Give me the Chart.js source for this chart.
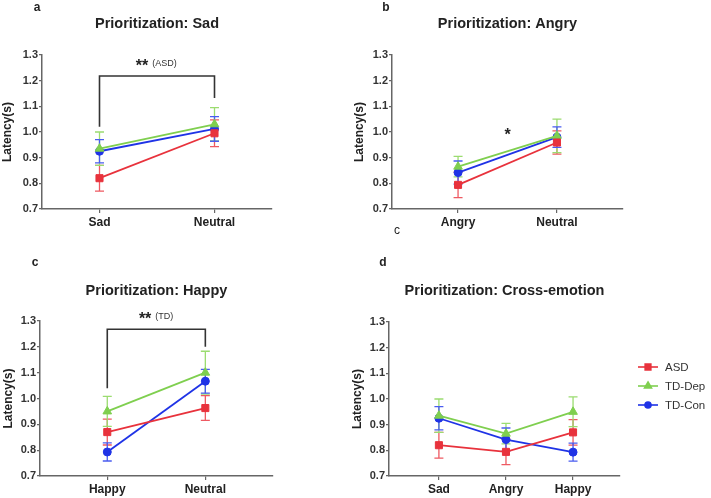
<!DOCTYPE html>
<html><head><meta charset="utf-8">
<script src="https://cdn.jsdelivr.net/npm/chart.js@4/dist/chart.umd.min.js"></script>
<style>
html,body{margin:0;padding:0;background:#fff;}
#wrap{position:relative;width:711px;height:498px;overflow:hidden;background:#fff;}
canvas{position:absolute;}
</style></head><body>
<div id="wrap">
<canvas id="pa" width="300" height="240" style="left:0px;top:0px"></canvas>
<canvas id="pb" width="300" height="245" style="left:350px;top:0px"></canvas>
<canvas id="pc" width="300" height="248" style="left:0px;top:250px"></canvas>
<canvas id="pd" width="364" height="248" style="left:347px;top:250px"></canvas>
</div>
<script>
// ---------- data ----------
const seriesNames = ['ASD', 'TD-Dep', 'TD-Con'];
const yTickValues = [0.7, 0.8, 0.9, 1.0, 1.1, 1.2, 1.3];

// a: Prioritization: Sad
const catsSad = ['Sad', 'Neutral'];
const sadASD = [0.820, 0.995];
const sadASDErr = [0.050, 0.052];
const sadDep = [0.935, 1.030];
const sadDepErr = [0.065, 0.065];
const sadCon = [0.925, 1.012];
const sadConErr = [0.045, 0.048];

// b: Prioritization: Angry
const catsAngry = ['Angry', 'Neutral'];
const angryASD = [0.794, 0.959];
const angryASDErr = [0.050, 0.045];
const angryDep = [0.865, 0.985];
const angryDepErr = [0.040, 0.065];
const angryCon = [0.842, 0.980];
const angryConErr = [0.045, 0.040];

// c: Prioritization: Happy
const catsHappy = ['Happy', 'Neutral'];
const happyASD = [0.870, 0.963];
const happyASDErr = [0.050, 0.048];
const happyDep = [0.950, 1.100];
const happyDepErr = [0.058, 0.083];
const happyCon = [0.793, 1.067];
const happyConErr = [0.035, 0.046];

// d: Prioritization: Cross-emotion
const catsCross = ['Sad', 'Angry', 'Happy'];
const crossASD = [0.820, 0.794, 0.870];
const crossASDErr = [0.050, 0.050, 0.050];
const crossDep = [0.935, 0.865, 0.950];
const crossDepErr = [0.065, 0.040, 0.058];
const crossCon = [0.925, 0.842, 0.793];
const crossConErr = [0.045, 0.045, 0.035];

// ---------- styles ----------
const COLORS = ['#e8323c', '#7fcf4f', '#1f33e6'];
const ERRCOLORS = ['#ee5a62', '#9bdc70', '#4a5cf0'];
const STYLES = ['rect', 'triangle', 'circle'];
const RADII = [5, 5, 4];
const AXIS = '#666';
const FONT = '"Liberation Sans", Arial, Helvetica, sans-serif';

const errorBarPlugin = {
  id: 'errbars',
  beforeDatasetsDraw(chart) {
    const ctx = chart.ctx, ys = chart.scales.y, xs = chart.scales.x;
    chart.data.datasets.forEach((ds, di) => {
      ctx.save();
      ctx.strokeStyle = ERRCOLORS[di];
      ctx.lineWidth = 1.3;
      ds.data.forEach((p, i) => {
        const e = ds.err[i];
        const x = xs.getPixelForValue(p.x);
        const y1 = ys.getPixelForValue(p.y + e), y2 = ys.getPixelForValue(p.y - e);
        ctx.beginPath();
        ctx.moveTo(x, y1); ctx.lineTo(x, y2);
        ctx.moveTo(x - 4.5, y1); ctx.lineTo(x + 4.5, y1);
        ctx.moveTo(x - 4.5, y2); ctx.lineTo(x + 4.5, y2);
        ctx.stroke();
      });
      ctx.restore();
    });
  }
};

const decorPlugin = {
  id: 'decor',
  afterDraw(chart, args, opts) {
    const ctx = chart.ctx, ca = chart.chartArea;
    const xs = chart.scales.x, ys = chart.scales.y;
    ctx.save();
    ctx.fillStyle = '#222';
    ctx.textAlign = 'center';
    ctx.textBaseline = 'middle';
    ctx.font = 'bold 14.5px ' + FONT;
    ctx.fillText(opts.title, (ca.left + ca.right) / 2 + (opts.titleDx || 0), opts.titleY);
    ctx.font = 'bold 12px ' + FONT;
    ctx.fillText(opts.letter, opts.letterX, opts.letterY);
    if (opts.extraLetter) {
      ctx.font = '12px ' + FONT;
      ctx.fillText(opts.extraLetter.t, opts.extraLetter.x, opts.extraLetter.y);
    }
    if (opts.bracket) {
      const b = opts.bracket;
      const xl = xs.getPixelForValue(b.x1), xr = xs.getPixelForValue(b.x2);
      const yt = ys.getPixelForValue(b.yTop);
      ctx.strokeStyle = '#333';
      ctx.lineWidth = 1.6;
      ctx.beginPath();
      ctx.moveTo(xl, ys.getPixelForValue(b.yLeft));
      ctx.lineTo(xl, yt);
      ctx.lineTo(xr, yt);
      ctx.lineTo(xr, ys.getPixelForValue(b.yRight));
      ctx.stroke();
    }
    if (opts.sig) {
      const s = opts.sig;
      const sx = xs.getPixelForValue(s.x), sy = ys.getPixelForValue(s.y);
      ctx.font = 'bold 16px ' + FONT;
      ctx.textAlign = 'center';
      ctx.textBaseline = 'middle';
      ctx.fillStyle = '#222';
      ctx.fillText(s.stars, sx, sy + 4);
      if (s.note) {
        const w = ctx.measureText(s.stars).width;
        ctx.font = '9px ' + FONT;
        ctx.textAlign = 'left';
        ctx.fillStyle = '#333';
        ctx.fillText(s.note, sx + w / 2 + 4, sy + 1);
      }
    }
    if (opts.legend) {
      const L = opts.legend;
      ctx.font = '11.5px ' + FONT;
      ctx.textAlign = 'left';
      ctx.textBaseline = 'middle';
      seriesNames.forEach((n, i) => {
        const y = L.y + i * L.gap;
        ctx.strokeStyle = COLORS[i];
        ctx.lineWidth = 1.6;
        ctx.beginPath();
        ctx.moveTo(L.x, y); ctx.lineTo(L.x + 20, y);
        ctx.stroke();
        ctx.fillStyle = COLORS[i];
        Chart.helpers.drawPoint(ctx, {pointStyle: STYLES[i], radius: RADII[i] - 1, rotation: 0, borderWidth: 1}, L.x + 10, y);
        ctx.fillStyle = '#333';
        ctx.fillText(n, L.x + 27, y + 0.5);
      });
    }
    ctx.restore();
  }
};

function makePanel(id, cats, series, errs, area, xmin, xmax, decor) {
  const canvas = document.getElementById(id);
  const W = canvas.width, H = canvas.height;
  const datasets = series.map((vals, si) => ({
    label: seriesNames[si],
    data: vals.map((v, i) => ({x: i, y: v})),
    err: errs[si],
    borderColor: COLORS[si],
    backgroundColor: COLORS[si],
    borderWidth: 1.8,
    pointStyle: STYLES[si],
    pointRadius: RADII[si],
    pointBorderWidth: 1,
    tension: 0,
    clip: false
  }));
  return new Chart(canvas, {
    type: 'line',
    data: {datasets},
    options: {
      responsive: false,
      animation: false,
      devicePixelRatio: 1,
      layout: {padding: {left: 0, top: area.T, right: W - area.R, bottom: 0}},
      plugins: {legend: {display: false}, tooltip: {enabled: false}, decor},
      scales: {
        x: {
          type: 'linear', min: xmin, max: xmax,
          afterBuildTicks: s => { s.ticks = cats.map((c, i) => ({value: i})); },
          afterFit: s => { s.height = H - area.B; },
          ticks: {autoSkip: false, maxRotation: 0, padding: 2, color: '#222',
                  font: {family: FONT, size: 12, weight: 'bold'},
                  callback: v => cats[v]},
          grid: {drawOnChartArea: false, drawTicks: true, tickLength: 4, color: AXIS, lineWidth: 1.2},
          border: {display: true, color: AXIS, width: 1.5}
        },
        y: {
          type: 'linear', min: 0.7, max: 1.3,
          afterBuildTicks: s => { s.ticks = yTickValues.map(v => ({value: v})); },
          afterFit: s => { s.width = area.L; },
          ticks: {padding: 1, color: '#333', font: {family: FONT, size: 11, weight: 'bold'},
                  callback: v => Number(v).toFixed(1)},
          grid: {drawOnChartArea: false, drawTicks: true, tickLength: 3, color: AXIS, lineWidth: 1.2},
          border: {display: true, color: AXIS, width: 1.5},
          title: {display: true, text: 'Latency(s)', color: '#222',
                  font: {family: FONT, size: 12, weight: 'bold'}, padding: {top: area.tp, bottom: 0}}
        }
      }
    },
    plugins: [errorBarPlugin, decorPlugin]
  });
}

makePanel('pa', catsSad, [sadASD, sadDep, sadCon], [sadASDErr, sadDepErr, sadConErr],
  {L: 42, T: 55, R: 272, B: 209, tp: 0}, -0.5, 1.5,
  {title: 'Prioritization: Sad', titleY: 24, letter: 'a', letterX: 37, letterY: 8,
   bracket: {x1: 0, x2: 1, yTop: 1.218, yLeft: 1.02, yRight: 1.132},
   sig: {x: 0.37, y: 1.27, stars: '**', note: '(ASD)'}});

makePanel('pb', catsAngry, [angryASD, angryDep, angryCon], [angryASDErr, angryDepErr, angryConErr],
  {L: 42, T: 55, R: 273, B: 209, tp: 2}, -0.668, 1.668,
  {title: 'Prioritization: Angry', titleY: 24, letter: 'b', letterX: 36, letterY: 8,
   extraLetter: {t: 'c', x: 47, y: 231},
   sig: {x: 0.5, y: 1.0, stars: '*'}});

makePanel('pc', catsHappy, [happyASD, happyDep, happyCon], [happyASDErr, happyDepErr, happyConErr],
  {L: 40, T: 71, R: 273, B: 226, tp: 1}, -0.686, 1.69,
  {title: 'Prioritization: Happy', titleY: 41, letter: 'c', letterX: 35, letterY: 13,
   bracket: {x1: 0, x2: 1, yTop: 1.268, yLeft: 1.04, yRight: 1.20},
   sig: {x: 0.386, y: 1.32, stars: '**', note: '(TD)'}});

makePanel('pd', catsCross, [crossASD, crossDep, crossCon], [crossASDErr, crossDepErr, crossConErr],
  {L: 42, T: 72, R: 273, B: 226, tp: 3}, -0.744, 2.70,
  {title: 'Prioritization: Cross-emotion', titleY: 41, letter: 'd', letterX: 36, letterY: 13,
   legend: {x: 291, y: 117, gap: 19}});
</script>
</body></html>
